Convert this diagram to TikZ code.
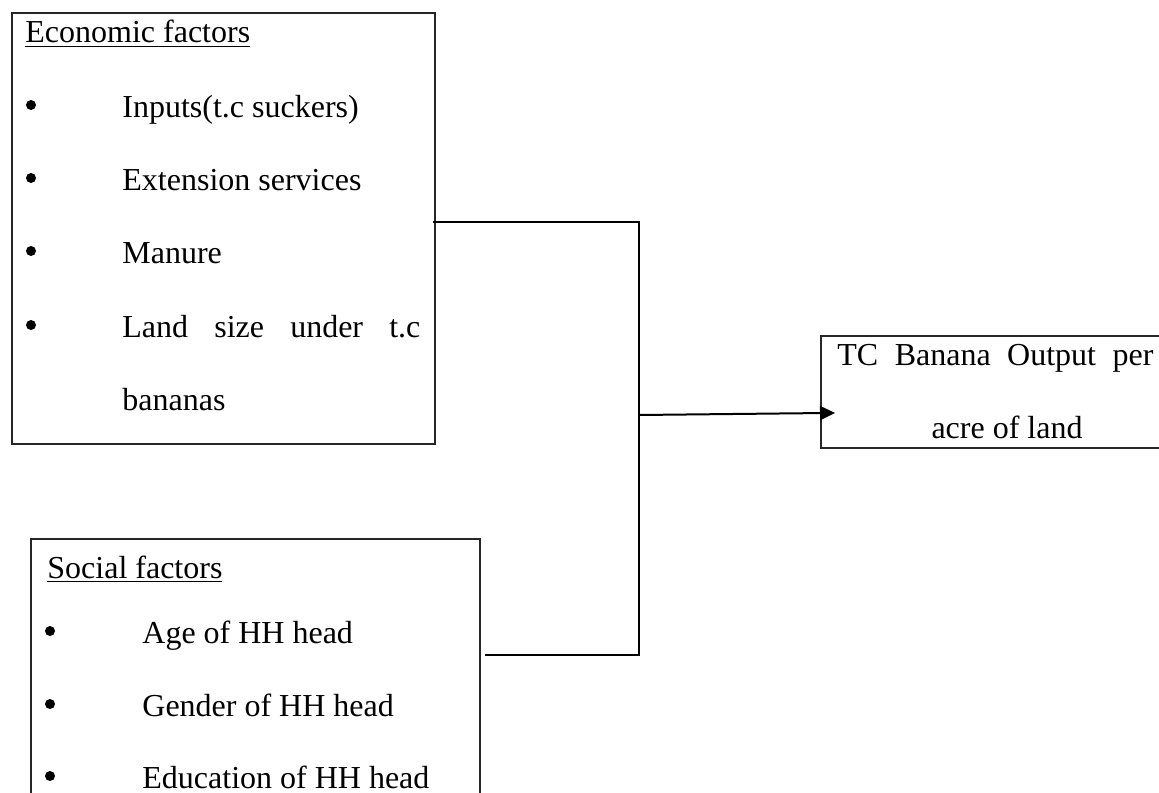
\documentclass[tikz,border=0pt]{standalone}
\usepackage{fontspec}
\setmainfont{Liberation Serif}
\usetikzlibrary{arrows.meta}

\begin{document}
\begin{tikzpicture}[x=0.5pt,y=-0.5pt,
	box/.style={draw=black!85, line width=0.9pt, inner sep=0pt, anchor=north west},
	txt/.style={inner sep=0pt, anchor=base west, font=\fontsize{16pt}{19pt}\selectfont},
	link/.style={line width=1pt}]
	
	\useasboundingbox (0,0) rectangle (1159,792);
	\clip (0,0) rectangle (1159,792);
	
	% boxes
	\node[box, minimum width=211.5pt, minimum height=215.5pt] (econ) at (11,12) {};
	\node[box, minimum width=224.5pt, minimum height=131pt] (social) at (30,538) {};
	\node[box, minimum width=175pt, minimum height=56pt] (output) at (820,335) {};
	
	% economic factors
	\node[txt] (econtitle) at (25,43) {\underline{Economic factors}};
	\node[txt] (inputs) at (122,117) {Inputs(t.c suckers)};
	\node[txt] (extension) at (122,190) {Extension services};
	\node[txt] (manure) at (122,263) {Manure};
	\node[txt] (land) at (122,337) {\makebox[149pt][s]{Land size under t.c}};
	\node[txt] (bananas) at (122,410) {bananas};
	\foreach \y in {117,190,263,337}
		\fill (31,\y-12) circle (2.5pt);
	
	% social factors
	\node[txt] (soctitle) at (47,578) {\underline{Social factors}};
	\node[txt] (age) at (142,643) {Age of HH head};
	\node[txt] (gender) at (142,716) {Gender of HH head};
	\node[txt] (education) at (142,788) {Education of HH head};
	\foreach \y in {643,716,788}
		\fill (50,\y-12) circle (2.5pt);
	
	% output
	\node[txt] (tcline) at (837,365) {\makebox[158pt][s]{TC Banana Output per}};
	\node[txt, anchor=base] (acreline) at (1007,438) {acre of land};
	
	% connectors
	\coordinate (econout) at ([shift={(-3,-6.5)}]econ.east);
	\coordinate (junc) at (639,415);
	\coordinate (socout) at (485,655);
	\draw[link] (econout) -| (junc) |- (socout);
	\draw[link, -{Triangle[length=7.5pt,width=7pt]}] (junc) -- ([shift={(15,21)}]output.west);
	
\end{tikzpicture}
\end{document}
